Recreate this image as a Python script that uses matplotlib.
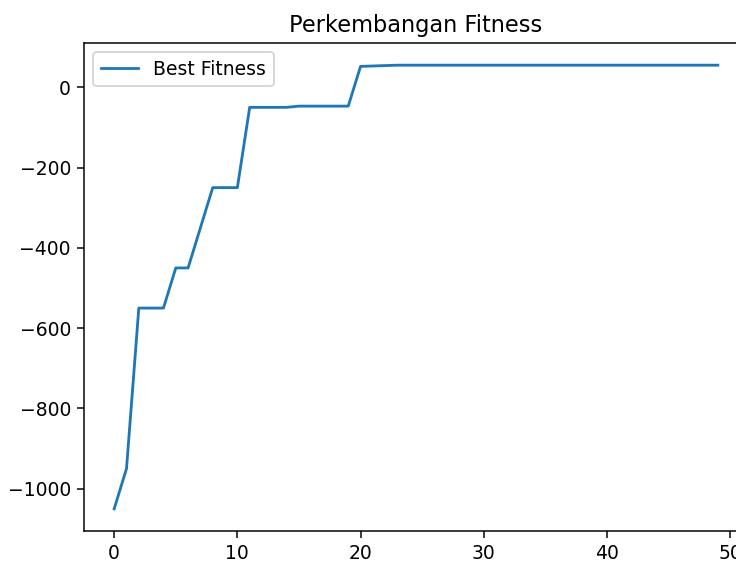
import numpy as np
import matplotlib
matplotlib.use('Agg')
import matplotlib.pyplot as plt

# best fitness per generation
generations = np.arange(50)
best_fitness = [-1050, -950, -550, -550, -550, -450, -450, -350, -250, -250,
                -250, -50, -50, -50, -50, -47, -47, -47, -47, -47,
                52, 53, 54] + [55] * 27

DPI = 135
fig = plt.figure(figsize=(736 / DPI, 565 / DPI), dpi=DPI)
# axes extends past the right edge (the original was cropped)
ax = fig.add_axes([84/736, 34/565, 664/736, 488/565])
ax.plot(generations, best_fitness, label='Best Fitness')
ax.set_title('Perkembangan Fitness')
ax.legend(loc='upper left')
fig.savefig('out.png', dpi=DPI)
